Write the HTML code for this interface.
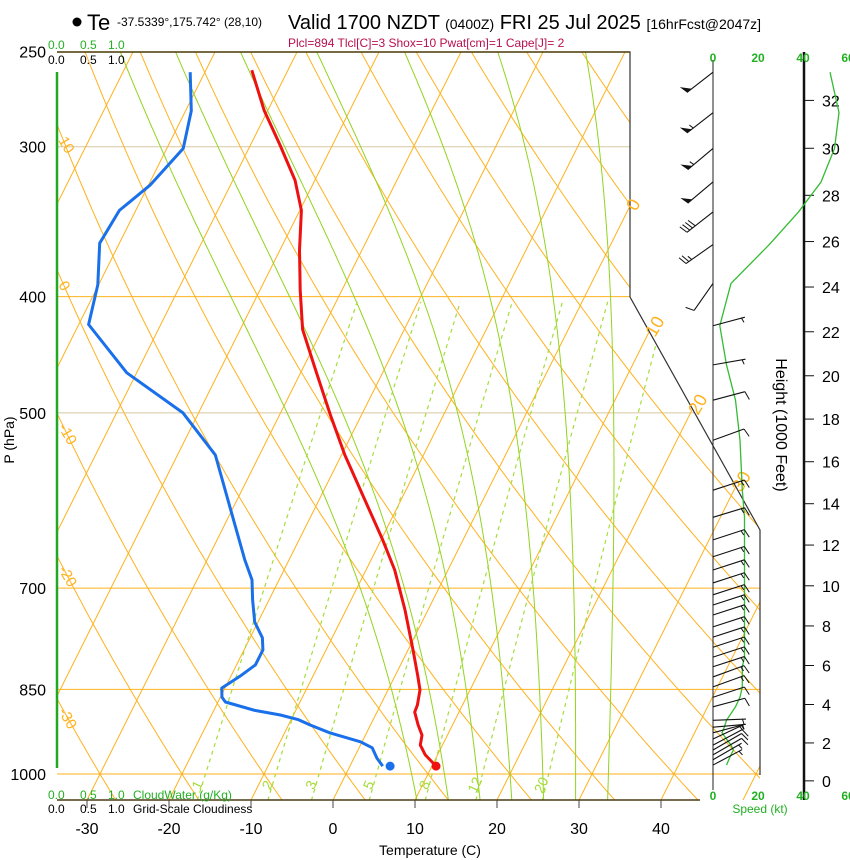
<!DOCTYPE html>
<html><head><meta charset="utf-8">
<style>
html,body{margin:0;padding:0;background:#fff;}
svg{display:block;font-family:"Liberation Sans",sans-serif;}
</style></head>
<body>
<svg id="chart" width="850" height="860" viewBox="0 0 850 860" xmlns="http://www.w3.org/2000/svg">
  <defs>
    <clipPath id="plotClip"><polygon points="57,52 630,52 630,297 760,530 760,800 57,800"/></clipPath>
  </defs>
  <g>
    <circle cx="77" cy="22" r="4.5" fill="#000"/>
    <text x="87" y="30" font-size="22">Te</text>
    <text x="117" y="26" font-size="12">-37.5339°,175.742° (28,10)</text>
    <text x="288" y="29" font-size="20">Valid 1700 NZDT <tspan font-size="14">(0400Z)</tspan> FRI 25 Jul 2025 <tspan font-size="14">[16hrFcst@2047z]</tspan></text>
    <text x="288" y="47" font-size="12" fill="#b8104c">Plcl=894 Tlcl[C]=3 Shox=10 Pwat[cm]=1 Cape[J]= 2</text>
  </g>
  <g id="grid" clip-path="url(#plotClip)"></g>
  <g id="frame"></g>
  <g id="labels"></g>
  <g id="profiles" clip-path="url(#plotClip)"></g>
  <g id="wind"></g>
</svg>
<script>
// ---- data ----
const tempP = [985,964,946,928,910,888,876,851,827,788,730,676,638,591,542,502,460,426,395,366,339,320,299,280,259];
const tempT = [10.5,8.5,7.3,6.9,5.8,4.6,4.5,3.9,2.7,0.6,-2.8,-6.5,-9.8,-14.4,-19.6,-23.8,-28.4,-32.4,-35.1,-37.6,-39.8,-42.4,-46.4,-50.4,-54.4];
const dewP = [985,970,951,940,924,910,901,893,885,871,863,848,829,811,788,770,747,716,689,663,608,542,500,463,422,391,361,339,323,301,280,260];
const dewT = [4.0,2.8,1.6,-0.2,-4.5,-7.4,-9.1,-11.6,-15.0,-19.1,-19.8,-20.4,-18.9,-17.7,-17.7,-18.5,-20.4,-22.0,-23.3,-25.4,-29.7,-35.4,-41.9,-51.2,-58.8,-60.1,-62.4,-62.0,-59.8,-58.0,-59.3,-61.8];
const sfcT = 10.5, sfcTd = 4.9, sfcP = 985;
const windP = [260,281,301,321,340,362,390,423,456,488,527,580,611,638,659,676,693,709,723,737,754,769,784,799,814,830,846,863,879,902,914,924,935,946,955,964,973,983];
const windDir = [232,232,230,230,232,235,215,75,80,75,70,72,73,72,72,72,72,72,72,72,72,72,72,72,72,70,70,72,75,88,85,75,65,62,60,60,60,62];
const windSpd = [52,56,54,48,38,25,8,3,6,10,12,13,14,14,14,14,14,14,14,14,14,14,14,14,13,13,13,12,10,6,5,4,6,8,9,8,7,6];
const tempTicks = [-30,-20,-10,0,10,20,30,40];
const pressTicks = [250,300,400,500,700,850,1000];
const heightTicks = [0,2,4,6,8,10,12,14,16,18,20,22,24,26,28,30,32];
const speedTicks = [0,20,40,60];
const mixRatios = [1,2,3,5,8,12,20];
const moistThetaW = [8,12,16,20,24,28,32];
const dryTheta = [-40,-30,-20,-10,0,10,20,30,40,50,60,70,80,90,100,110,120,130,140,150];
const isotherms = [-130,-120,-110,-100,-90,-80,-70,-60,-50,-40,-30,-20,-10,0,10,20,30,40,50];
const adiabatLabels = [10,0,-10,-20,-30];
const isoLabels = [0,10,20,30];

// ---- axes ----
const NS='http://www.w3.org/2000/svg';
function yP(p){return 774-521*Math.log(1000/p);}
function pY(y){return 1000*Math.exp((y-774)/521);}
function xT(T,y){return 333+8.2*T+0.5*(800-y);}
function xSpd(s){return 713+2.25*s;}
function yH(kft){const p=1013.25*Math.pow(1-6.8756e-6*kft*1000,5.2559);return yP(p);}
function mk(tag,attrs,parent){const e=document.createElementNS(NS,tag);for(const k in attrs)e.setAttribute(k,attrs[k]);parent.appendChild(e);return e;}
const grid=document.getElementById('grid'),frame=document.getElementById('frame'),labels=document.getElementById('labels'),prof=document.getElementById('profiles'),wind=document.getElementById('wind');
const ORANGE='#ffb21e',GREEN='#92d41e';
function ptsStr(a){return a.map(q=>q[0].toFixed(1)+','+q[1].toFixed(1)).join(' ');}

pressTicks.forEach(p=>{
  const y=yP(p);
  if(p>250){const l=mk('line',{x1:57,y1:y,x2:760,y2:y,stroke:(p==300||p==500)?'#d8c8a0':ORANGE,'stroke-width':1},grid);
  
  }
  const t=mk('text',{x:46,y:y+6,'font-size':16,'text-anchor':'end'},labels);t.textContent=p;
  
  
});
isotherms.forEach(T=>{
  const l=mk('line',{x1:xT(T,800),y1:800,x2:xT(T,52),y2:52,stroke:ORANGE,'stroke-width':1},grid);
  
  
});
dryTheta.forEach(th=>{
  const pts=[];for(let p=1052;p>=248;p-=6){const T=(th+273.15)*Math.pow(p/1000,0.2857)-273.15;const y=yP(p);pts.push([xT(T,y),y]);}
  const l=mk('polyline',{points:ptsStr(pts),fill:'none',stroke:ORANGE,'stroke-width':1},grid);
  
  
});
function es(T){return 6.112*Math.exp(17.67*T/(T+243.5));}
function dTdp(T,p){const e=es(T),rs=0.622*e/(p-e),Tk=T+273.15;return (287*Tk+2.5e6*rs)/(p*(1004+2.5e6*2.5e6*rs*0.622/(287*Tk*Tk)));}
moistThetaW.forEach(tw=>{
  const pts=[];let T=tw,p=1000;
  const down=[];let Td=tw;for(let pp=1000;pp<1052;pp+=2){Td+=dTdp(Td,pp)*2;down.push([xT(Td,yP(pp+2)),yP(pp+2)]);}
  down.reverse().forEach(q=>pts.push(q));
  pts.push([xT(T,yP(p)),yP(p)]);
  while(p>248){T-=dTdp(T,p)*2;p-=2;pts.push([xT(T,yP(p)),yP(p)]);}
  const l=mk('polyline',{points:ptsStr(pts),fill:'none',stroke:GREEN,'stroke-width':1},grid);
  
  
});
function tdW(w,p){const e=w*p/(622+w);const a=Math.log(e/6.112);return 243.5*a/(17.67-a);}
mixRatios.forEach(w=>{
  const pts=[];for(let p=1052;p>=400;p-=8){const y=yP(p);pts.push([xT(tdW(w,p),y),y]);}
  const l=mk('polyline',{points:ptsStr(pts),fill:'none',stroke:'#a6dc3a','stroke-width':1.2,'stroke-dasharray':'4,4'},grid);
  
  
  const y=787,x=xT(tdW(w,pY(y)),y);
  const t=mk('text',{x:x,y:y,'font-size':14,fill:'#a6dc3a','text-anchor':'middle',transform:`rotate(-65 ${x} ${y})`},labels);t.textContent=w;
  
  
});
adiabatLabels.forEach(th=>{
  let yy=800;for(let p=1052;p>=248;p-=1){const T=(th+273.15)*Math.pow(p/1000,0.2857)-273.15;const y=yP(p);if(xT(T,y)<=62){yy=y;break;}}
  const t=mk('text',{x:58,y:yy+4,'font-size':15,fill:ORANGE,transform:`rotate(60 58 ${yy+4})`},labels);t.textContent=th;
  
  
});
isoLabels.forEach(T=>{
  let y=52;for(let yy=52;yy<800;yy++){const x=xT(T,yy);const bx=yy<297?630:(yy<530?630+130*(yy-297)/233:760);if(x<=bx){y=yy;break;}}
  const x=xT(T,y)+6;
  const t=mk('text',{x:x,y:y+6,'font-size':18,fill:ORANGE,transform:`rotate(-60 ${x} ${y+6})`},labels);t.textContent=T;
  
  
});
mk('polyline',{points:'57,52 630,52 630,297 760,530 760,775',fill:'none',stroke:'#333','stroke-width':1.2},frame);
mk('line',{x1:57,y1:52,x2:630,y2:52,stroke:'#5b4a14','stroke-width':1.5},frame);
mk('line',{x1:57,y1:800,x2:700,y2:800,stroke:'#4a3d14','stroke-width':1.5},frame);
const cw=mk('line',{x1:57,y1:72,x2:57,y2:768,stroke:'#22a822','stroke-width':2.5},frame);


tempTicks.forEach(T=>{
  const x=xT(T,800);
  mk('line',{x1:x,y1:800,x2:x,y2:808,stroke:'#444','stroke-width':1},frame);
  const t=mk('text',{x:x,y:834,'font-size':16,'text-anchor':'middle'},labels);t.textContent=T;
  
  
});
function txt(s,attrs,name){const t=mk('text',attrs,labels);t.textContent=s;return t;}
txt('Temperature (C)',{x:430,y:855,'font-size':14,'text-anchor':'middle'},'x-axis-title');
txt('P (hPa)',{x:14,y:440,'font-size':14,'text-anchor':'middle',transform:'rotate(-90 14 440)'},'y-axis-title');
txt('Height (1000 Feet)',{x:776,y:425,'font-size':16,'text-anchor':'middle',transform:'rotate(90 776 425)'},'height-axis-title');
[['0.0',48],['0.5',80],['1.0',108]].forEach(a=>{
  txt(a[0],{x:a[1],y:49,'font-size':12,fill:'#22b022'},'cloudwater-scale-top');
  txt(a[0],{x:a[1],y:64,'font-size':12},'cloudiness-scale-top');
  txt(a[0],{x:a[1],y:799,'font-size':12,fill:'#22b022'},'cloudwater-scale-bottom');
  txt(a[0],{x:a[1],y:813,'font-size':12},'cloudiness-scale-bottom');
});
txt('CloudWater (g/Kg)',{x:133,y:799,'font-size':12,fill:'#22b022'},'cloudwater-legend');
txt('Grid-Scale Cloudiness',{x:133,y:813,'font-size':12},'cloudiness-legend');

const tp=tempP.map((p,i)=>[xT(tempT[i],yP(p)),yP(p)]);
const tl=mk('polyline',{points:ptsStr(tp),fill:'none',stroke:'#ee1111','stroke-width':3,'stroke-linejoin':'round'},prof);


const dp=dewP.map((p,i)=>[xT(dewT[i],yP(p)),yP(p)]);
const dl=mk('polyline',{points:ptsStr(dp),fill:'none',stroke:'#1a70ea','stroke-width':3,'stroke-linejoin':'round'},prof);


const td=mk('circle',{cx:xT(sfcT,yP(sfcP)),cy:yP(sfcP),r:4.5,fill:'#ee1111'},prof);


const dd=mk('circle',{cx:xT(sfcTd,yP(sfcP)),cy:yP(sfcP),r:4.5,fill:'#1a70ea'},prof);



mk('line',{x1:713,y1:60,x2:713,y2:790,stroke:'#222','stroke-width':1},wind);
const ha=mk('line',{x1:804,y1:52,x2:804,y2:800,stroke:'#111','stroke-width':2.5},wind);


heightTicks.forEach(h=>{
  const y=yH(h);
  mk('line',{x1:804,y1:y,x2:814,y2:y,stroke:'#111','stroke-width':1},wind);
  const t=mk('text',{x:822,y:y+6,'font-size':16},wind);t.textContent=h;
  
  
});
speedTicks.forEach(s=>{
  const x=xSpd(s);
  [62,800].forEach(y=>{const t=mk('text',{x:x,y:y,'font-size':12,fill:'#22b022','text-anchor':'middle','font-weight':'bold'},wind);t.textContent=s;
  
  });
});
txt('Speed (kt)',{x:760,y:813,'font-size':12,fill:'#22b022','text-anchor':'middle'},'speed-axis-title');
const sp=windP.map((p,i)=>[xSpd(windSpd[i]),yP(p)]);
const sl=mk('polyline',{points:ptsStr(sp),fill:'none',stroke:'#33bb33','stroke-width':1.3},wind);


windP.forEach((p,i)=>{
  const g=mk('g',{},wind);
  
  
  const y=yP(p),x=713,d=windDir[i]*Math.PI/180,L=33;
  const ux=Math.sin(d),uy=-Math.cos(d);
  const tx=x+ux*L,ty=y+uy*L;
  mk('line',{x1:x,y1:y,x2:tx,y2:ty,stroke:'#111','stroke-width':1.1},g);
  const a=75*Math.PI/180,bx=ux*Math.cos(a)-uy*Math.sin(a),by=ux*Math.sin(a)+uy*Math.cos(a);
  let s=Math.round(windSpd[i]/5)*5,pos=0;
  while(s>=50){const px=tx-ux*pos,py=ty-uy*pos;
    mk('polygon',{points:`${px},${py} ${px+bx*9},${py+by*9} ${px-ux*6},${py-uy*6}`,fill:'#111'},g);pos+=8;s-=50;}
  while(s>=10){const px=tx-ux*pos,py=ty-uy*pos;mk('line',{x1:px,y1:py,x2:px+bx*9,y2:py+by*9,stroke:'#111','stroke-width':1},g);pos+=3.5;s-=10;}
  if(s>=5){if(pos==0)pos=3.5;const px=tx-ux*pos,py=ty-uy*pos;mk('line',{x1:px,y1:py,x2:px+bx*5,y2:py+by*5,stroke:'#111','stroke-width':1},g);}
});
</script>
</body></html>
